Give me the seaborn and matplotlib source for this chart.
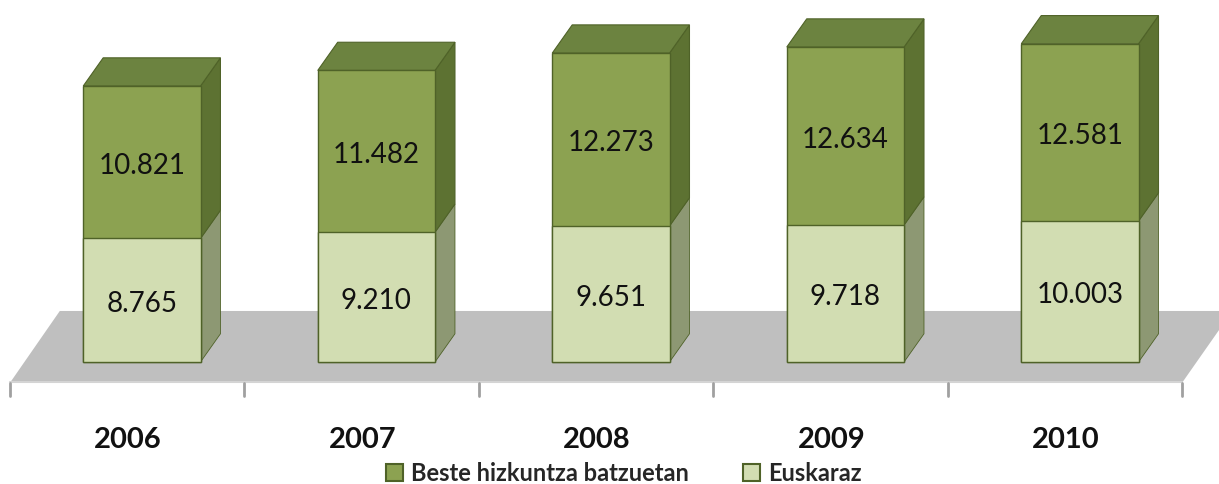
import matplotlib
matplotlib.use("Agg")
import matplotlib.pyplot as plt
import seaborn as sns
import pandas as pd
from matplotlib.patches import Polygon, Patch

sns.set_style("white")
plt.rcParams['font.family'] = ['Lato', 'DejaVu Sans']

# --------------------------
# DATA
# --------------------------
years = ["2006", "2007", "2008", "2009", "2010"]
euskaraz = [8765, 9210, 9651, 9718, 10003]
beste = [10821, 11482, 12273, 12634, 12581]

labels = ["Beste hizkuntza batzuetan", "Euskaraz"]

def fmt(v):
    return f"{v:,}".replace(",", ".")

df = pd.DataFrame({"year": years, "euskaraz": euskaraz, "beste": beste})
df["total"] = df["euskaraz"] + df["beste"]

# colours
dark_front = "#8ca251"
dark_top = "#6c8340"
dark_side = "#5d7232"
light_front = "#d2ddb2"
light_side = "#8d9873"
edge = "#4f6228"
floor_col = "#bfbfbf"

# 3D depth (data units)
bar_w = 0.5
dx = 0.085
dy = 2000

# --------------------------
# FIGURE
# --------------------------
fig = plt.figure(figsize=(12.19, 4.84), dpi=100)
ax = fig.add_axes([0, 0, 1, 1])

# front faces
sns.barplot(data=df, x="year", y="total", color=dark_front, saturation=1,
            width=bar_w, edgecolor=edge, linewidth=1, ax=ax, zorder=2)
sns.barplot(data=df, x="year", y="euskaraz", color=light_front, saturation=1,
            width=bar_w, edgecolor=edge, linewidth=1, ax=ax, zorder=2)

ax.set_xlim(-0.605, 4.593)
ax.set_ylim(-8660, 25690)
ax.axis("off")

# floor
floor = Polygon([(-0.563, -1490), (4.435, -1490), (4.65, 3620), (-0.35, 3620)],
                closed=True, facecolor=floor_col, edgecolor="none", zorder=0)
ax.add_patch(floor)
ax.plot([-0.563, 4.435], [-1450, -1450], color="#d4d4d4", lw=1.5, zorder=0.5)

# floor ticks
for k in range(len(years) + 1):
    xt = -0.563 + k * 0.9996
    ax.plot([xt, xt], [-1490, -2420], color="#a0a0a0", lw=2, zorder=0.5)

# side and top faces
for i, row in df.iterrows():
    xl = i - bar_w / 2
    xr = i + bar_w / 2
    e = row["euskaraz"]
    t = row["total"]
    ax.add_patch(Polygon([(xr, 0), (xr, e), (xr + dx, e + dy), (xr + dx, dy)],
                         facecolor=light_side, edgecolor=edge, lw=0.6, zorder=1.5))
    ax.add_patch(Polygon([(xr, e), (xr, t), (xr + dx, t + dy), (xr + dx, e + dy)],
                         facecolor=dark_side, edgecolor=edge, lw=0.8, zorder=1.5))
    ax.add_patch(Polygon([(xl, t), (xr, t), (xr + dx, t + dy), (xl + dx, t + dy)],
                         facecolor=dark_top, edgecolor=edge, lw=0.8, zorder=1.5))

    # value labels
    ax.text(i, e / 2 - 250, fmt(e), ha="center", va="center",
            fontsize=20, color="#111111", zorder=3)
    ax.text(i, e + row["beste"] / 2 - 250, fmt(row["beste"]), ha="center",
            va="center", fontsize=20, color="#111111", zorder=3)

    # year labels
    ax.text(i - 0.06, -5550, row["year"], ha="center", va="center",
            fontsize=21, fontweight="bold", color="#111111")

# legend
handles = [Patch(facecolor=dark_front, edgecolor=edge, lw=1.5),
           Patch(facecolor=light_front, edgecolor=edge, lw=1.5)]
fig.legend(handles, labels, loc="center", bbox_to_anchor=(0.512, 0.022),
           ncol=2, frameon=False, prop={"size": 17, "weight": "bold"},
           handlelength=0.7, handleheight=0.7, handletextpad=0.35,
           columnspacing=2.3)

fig.savefig("out.png", dpi=100)
